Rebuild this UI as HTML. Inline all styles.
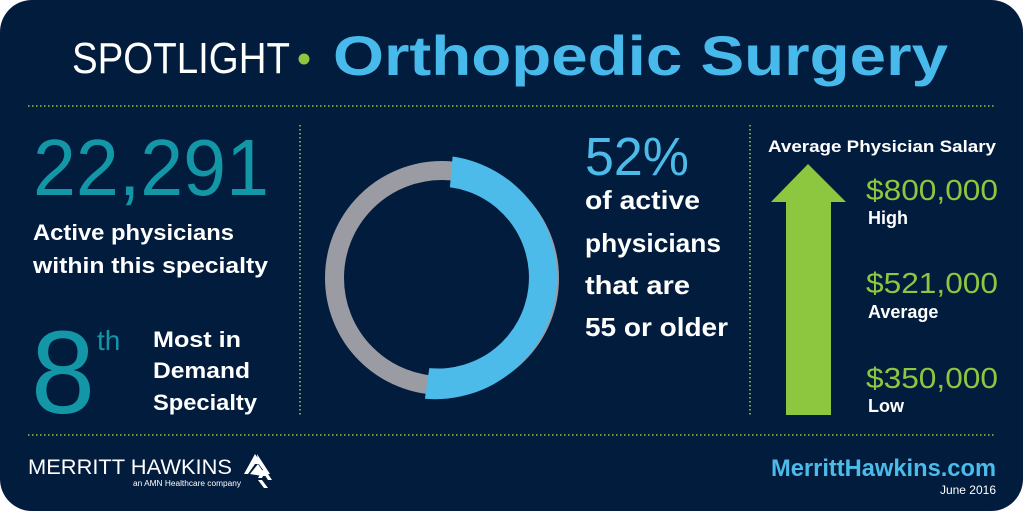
<!DOCTYPE html>
<html><head><meta charset="utf-8"><style>
html,body{margin:0;padding:0;background:#fff;width:1023px;height:511px;overflow:hidden}
svg{display:block}
text{font-family:"Liberation Sans","DejaVu Sans",sans-serif}
.b{font-weight:bold;fill:#fff}
</style></head><body>
<svg width="1023" height="511" viewBox="0 0 1023 511">
<rect x="0" y="0" width="1023" height="511" rx="32" fill="#021c3d"/>
<g stroke="#8dc63f" stroke-width="1.6" stroke-dasharray="1.5 2.5" fill="none">
<line x1="28" y1="106" x2="996" y2="106"/>
<line x1="28" y1="435" x2="996" y2="435"/>
<line x1="300" y1="125" x2="300" y2="415"/>
<line x1="750" y1="125" x2="750" y2="415"/>
</g>
<text x="72" y="73" font-size="44" fill="#fff" font-weight="300" textLength="218" lengthAdjust="spacingAndGlyphs">SPOTLIGHT</text>
<circle cx="304" cy="59" r="5.5" fill="#8dc63f"/>
<text x="333" y="75" font-size="56" font-weight="bold" fill="#47b9ea" textLength="615" lengthAdjust="spacingAndGlyphs">Orthopedic Surgery</text>

<text x="33" y="195" font-size="80" fill="#1397a6" textLength="236" lengthAdjust="spacingAndGlyphs">22,291</text>
<text x="33" y="240" font-size="22" class="b" textLength="201" lengthAdjust="spacingAndGlyphs">Active physicians</text>
<text x="33" y="273" font-size="22" class="b" textLength="235" lengthAdjust="spacingAndGlyphs">within this specialty</text>
<text x="31" y="413" font-size="118" fill="#1397a6" textLength="64" lengthAdjust="spacingAndGlyphs">8</text>
<text x="97" y="350" font-size="28" fill="#1397a6">th</text>
<text x="153" y="347" font-size="22" class="b" textLength="88" lengthAdjust="spacingAndGlyphs">Most in</text>
<text x="153" y="378" font-size="22" class="b" textLength="97" lengthAdjust="spacingAndGlyphs">Demand</text>
<text x="153" y="410" font-size="22" class="b" textLength="104" lengthAdjust="spacingAndGlyphs">Specialty</text>

<circle cx="442" cy="278" r="107.5" fill="none" stroke="#9a9ba3" stroke-width="19"/>
<path d="M452.6 156.5 A122 122 0 0 1 424.9 398.8 L429.3 368.1 A91 91 0 0 0 449.9 187.3 Z" fill="#4cbbea"/>

<text x="585" y="175" font-size="54" fill="#4cbbea" textLength="104" lengthAdjust="spacingAndGlyphs">52%</text>
<text x="585" y="209" font-size="26" class="b" textLength="115" lengthAdjust="spacingAndGlyphs">of active</text>
<text x="585" y="252" font-size="26" class="b" textLength="136" lengthAdjust="spacingAndGlyphs">physicians</text>
<text x="585" y="294" font-size="26" class="b" textLength="105" lengthAdjust="spacingAndGlyphs">that are</text>
<text x="585" y="336" font-size="26" class="b" textLength="143" lengthAdjust="spacingAndGlyphs">55 or older</text>

<text x="768" y="152" font-size="17" class="b" textLength="228" lengthAdjust="spacingAndGlyphs">Average Physician Salary</text>
<polygon points="808,164 846,202 831,202 831,415 786,415 786,202 771,202" fill="#8dc63f"/>
<g fill="#8dc63f" font-size="29">
<text x="866" y="200" textLength="132" lengthAdjust="spacingAndGlyphs">$800,000</text>
<text x="866" y="293" textLength="132" lengthAdjust="spacingAndGlyphs">$521,000</text>
<text x="866" y="388" textLength="132" lengthAdjust="spacingAndGlyphs">$350,000</text>
</g>
<text x="868" y="224" font-size="18" class="b">High</text>
<text x="868" y="318" font-size="18" class="b">Average</text>
<text x="868" y="412" font-size="18" class="b">Low</text>

<text x="28" y="474" font-size="21" fill="#fff" textLength="204" lengthAdjust="spacingAndGlyphs">MERRITT HAWKINS</text>
<text x="133" y="486" font-size="8" fill="#fff" textLength="108" lengthAdjust="spacingAndGlyphs">an AMN Healthcare company</text>
<g fill="#fff">
<polygon points="255,454 262,464 255,464 248,474 244,474"/>
<polygon points="257,454 270,474 266,474 258,463"/>
<polygon points="250,474 258,464 266,476 262,476"/>
<polygon points="258,478 264,468 272,480 268,480 264,474 262,478"/>
<polygon points="258,480 264,488 268,488 262,480"/>
</g>
<text x="996" y="476" font-size="24" font-weight="bold" fill="#4cbbea" text-anchor="end" textLength="225" lengthAdjust="spacingAndGlyphs">MerrittHawkins.com</text>
<text x="996" y="494" font-size="12" fill="#fff" text-anchor="end">June 2016</text>
</svg>
</body></html>
